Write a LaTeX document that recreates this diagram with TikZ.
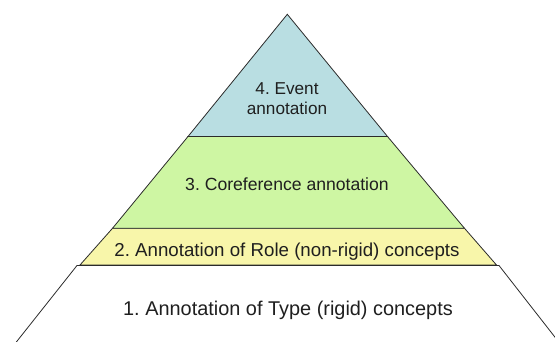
\documentclass[tikz,border=0pt]{standalone}
\usepackage{fontspec}
\setmainfont{Liberation Sans}
\usetikzlibrary{positioning}
\frenchspacing
\definecolor{ink}      {HTML}{2B2B2B}
\definecolor{eventfill}{HTML}{B9DEE2}
\definecolor{coreffill}{HTML}{CEF6A3}
\definecolor{rolefill} {HTML}{F8F6AA}
\tikzset{
  % --- layers
  layer/.style = {draw=ink, line width=0.8pt, line join=miter},
  % --- labels
  lbl/.style   = {text=black!88, align=center, inner sep=0pt},
}

\begin{document}
\begin{tikzpicture}[x=1pt,y=-1pt]
  \useasboundingbox (0,0) rectangle (555,342);
  % corners of the pyramid
  \coordinate (apex) at (287.3,14.3);
  \coordinate (el) at (188,136.5);  \coordinate (er) at (387.5,136.5);
  \coordinate (cl) at (112.5,228.3); \coordinate (cr) at (464.5,228.3);
  \coordinate (rl) at (80,265);     \coordinate (rr) at (496.5,265);
  \coordinate (tl) at (77,265.5);   \coordinate (tr) at (499,265.5);
  \coordinate (bl) at (10,350);     \coordinate (br) at (565,350);
  % bottom band (open at the foot)
  \begin{scope}
    \clip (0,0) rectangle (555,342);
    \draw[layer] (bl) -- (tl) -- (tr) -- (br);
  \end{scope}
  \draw[layer, fill=rolefill]  (rl) -- (cl) -- (cr) -- (rr) -- cycle;
  \draw[layer, fill=coreffill] (cl) -- (el) -- (er) -- (cr) -- cycle;
  \draw[layer, fill=eventfill] (el) -- (apex) -- (er) -- cycle;
  % labels
  \node[lbl, font=\fontsize{17.2}{20}\selectfont] (event) at (287,98.8) {4. Event\\annotation};
  \node[lbl, anchor=base, font=\fontsize{17.6}{20}\selectfont] (coref) at (287,191) {3. Coreference annotation};
  \node[lbl, anchor=base, font=\fontsize{18.7}{21}\selectfont] (role) at (287,256.5) {2. Annotation of Role (non-rigid) concepts};
  \node[lbl, anchor=base, font=\fontsize{19.9}{22}\selectfont] (type) at (288,316) {1. Annotation of Type (rigid) concepts};
\end{tikzpicture}
\end{document}
